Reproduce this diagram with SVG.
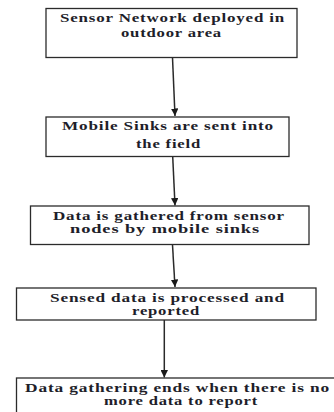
<svg xmlns="http://www.w3.org/2000/svg" width="334" height="412" viewBox="0 0 334 412">
  <style>
    .box { fill: #ffffff; stroke: #2b2b2b; stroke-width: 1.3; }
    .lbl { font-family: "Liberation Serif", "Times New Roman", serif; font-size: 12.5px; font-weight: bold; letter-spacing: 0.6px; fill: #1e1e2a; }
    .conn { stroke: #2a2a2a; stroke-width: 1.5; fill: none; marker-end: url(#head); }
  </style>
  <defs>
    <marker id="head" viewBox="0 0 10 10" refX="10" refY="5" markerWidth="5" markerHeight="5" markerUnits="strokeWidth" orient="auto">
      <path d="M0,0 L10,5 L0,10 z" fill="#1a1a1a"/>
    </marker>
  </defs>
  <rect width="334" height="412" fill="#ffffff"/>

  <g id="connectors">
    <path class="conn" d="M172.5,57.5 L175,116"/>
    <path class="conn" d="M172.7,156.5 L175,205.5"/>
    <path class="conn" d="M172.5,245 L175,287"/>
    <path class="conn" d="M164.3,320 L164.3,377.5"/>
  </g>

  <g id="step1">
    <rect class="box" x="46" y="8.5" width="251" height="49"/>
    <text class="lbl" x="60" y="21.5" textLength="225" lengthAdjust="spacingAndGlyphs">Sensor Network deployed in</text>
    <text class="lbl" x="121" y="36.5" textLength="101" lengthAdjust="spacingAndGlyphs">outdoor area</text>
  </g>

  <g id="step2">
    <rect class="box" x="46" y="117" width="243" height="39.5"/>
    <text class="lbl" x="62" y="130" textLength="212" lengthAdjust="spacingAndGlyphs">Mobile Sinks are sent into</text>
    <text class="lbl" x="136" y="148" textLength="65" lengthAdjust="spacingAndGlyphs">the field</text>
  </g>

  <g id="step3">
    <rect class="box" x="30.5" y="206" width="278.5" height="38.5"/>
    <text class="lbl" x="53" y="219.5" textLength="232" lengthAdjust="spacingAndGlyphs">Data is gathered from sensor</text>
    <text class="lbl" x="70" y="232.5" textLength="190" lengthAdjust="spacingAndGlyphs">nodes by mobile sinks</text>
  </g>

  <g id="step4">
    <rect class="box" x="16.5" y="288" width="299.5" height="32"/>
    <text class="lbl" x="50" y="301.5" textLength="235" lengthAdjust="spacingAndGlyphs">Sensed data is processed and</text>
    <text class="lbl" x="132" y="315" textLength="68" lengthAdjust="spacingAndGlyphs">reported</text>
  </g>

  <g id="step5">
    <rect class="box" x="16.5" y="378" width="330" height="50"/>
    <text class="lbl" x="25" y="391.5" textLength="305" lengthAdjust="spacingAndGlyphs">Data gathering ends when there is no</text>
    <text class="lbl" x="104" y="405" textLength="154" lengthAdjust="spacingAndGlyphs">more data to report</text>
  </g>
</svg>
